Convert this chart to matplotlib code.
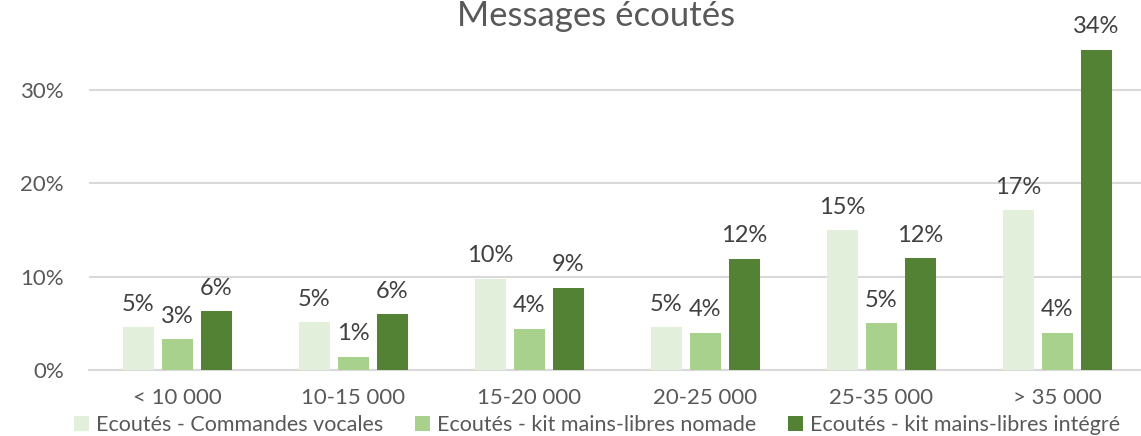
import matplotlib
matplotlib.use("Agg")
import matplotlib.pyplot as plt
import numpy as np
from matplotlib.patches import Patch

categories = ["< 10 000", "10-15 000", "15-20 000", "20-25 000", "25-35 000", "> 35 000"]
series_names = ["Ecoutés - Commandes vocales",
                "Ecoutés - kit mains-libres nomade",
                "Ecoutés - kit mains-libres intégré"]
vocales = [4.6, 5.1, 9.8, 4.6, 15.0, 17.1]
nomade = [3.3, 1.4, 4.4, 4.0, 5.0, 4.0]
integre = [6.3, 6.0, 8.8, 11.9, 12.0, 34.3]
labels_vocales = ["5%", "5%", "10%", "5%", "15%", "17%"]
labels_nomade = ["3%", "1%", "4%", "4%", "5%", "4%"]
labels_integre = ["6%", "6%", "9%", "12%", "12%", "34%"]
yticks = [0, 10, 20, 30]

colors = ["#E2EFDA", "#A9D18E", "#548235"]
text_col = "#595959"
plt.rcParams['font.family'] = ['Lato', 'DejaVu Sans']

W, H = 1141, 436
fig = plt.figure(figsize=(W / 100, H / 100), dpi=100)
left_px, zero_px = 89, 370
ax = fig.add_axes([left_px / W, (H - zero_px) / H, (W - left_px) / W, zero_px / H])

cat_px = 176.0
px_per_pct = 9.33
ax.set_xlim(-0.5, (W - left_px) / cat_px - 0.5)
ax.set_ylim(0, zero_px / px_per_pct)

x = np.arange(len(categories))
bw = 31 / cat_px
step = 39 / cat_px
series = [vocales, nomade, integre]
labs = [labels_vocales, labels_nomade, labels_integre]
for k in range(3):
    xs = x + (k - 1) * step
    ax.bar(xs, series[k], width=bw, color=colors[k], zorder=3)
    for xi, v, t in zip(xs, series[k], labs[k]):
        ax.annotate(t, (xi, v), xytext=(0, 9), textcoords="offset points",
                    ha="center", va="bottom", fontsize=17, color="#404040")

ax.set_yticks(yticks)
ax.set_yticklabels([f"{t}%" for t in yticks])
ax.set_xticks(x)
ax.set_xticklabels(categories)
ax.tick_params(axis="both", length=0, labelsize=16, labelcolor=text_col)
ax.tick_params(axis="y", pad=18)
ax.tick_params(axis="x", pad=13)
ax.grid(axis="y", color="#D9D9D9", linewidth=1.5, zorder=0)
for s in ["top", "right", "left"]:
    ax.spines[s].set_visible(False)
ax.spines["bottom"].set_color("#D9D9D9")
ax.spines["bottom"].set_linewidth(1.5)

fig.text(596 / W, (H - 26) / H, "Messages écoutés", ha="center", va="baseline",
         fontsize=25, color=text_col)

handles = [Patch(facecolor=c) for c in colors]
fig.legend(handles, series_names, loc="center left", bbox_to_anchor=(74 / W, (H - 425) / H),
           ncol=3, frameon=False, fontsize=15.5, labelcolor=text_col,
           handlelength=0.7, handleheight=0.7, handletextpad=0.3, columnspacing=1.5,
           borderpad=0, borderaxespad=0)

fig.savefig("out.png", dpi=100)
